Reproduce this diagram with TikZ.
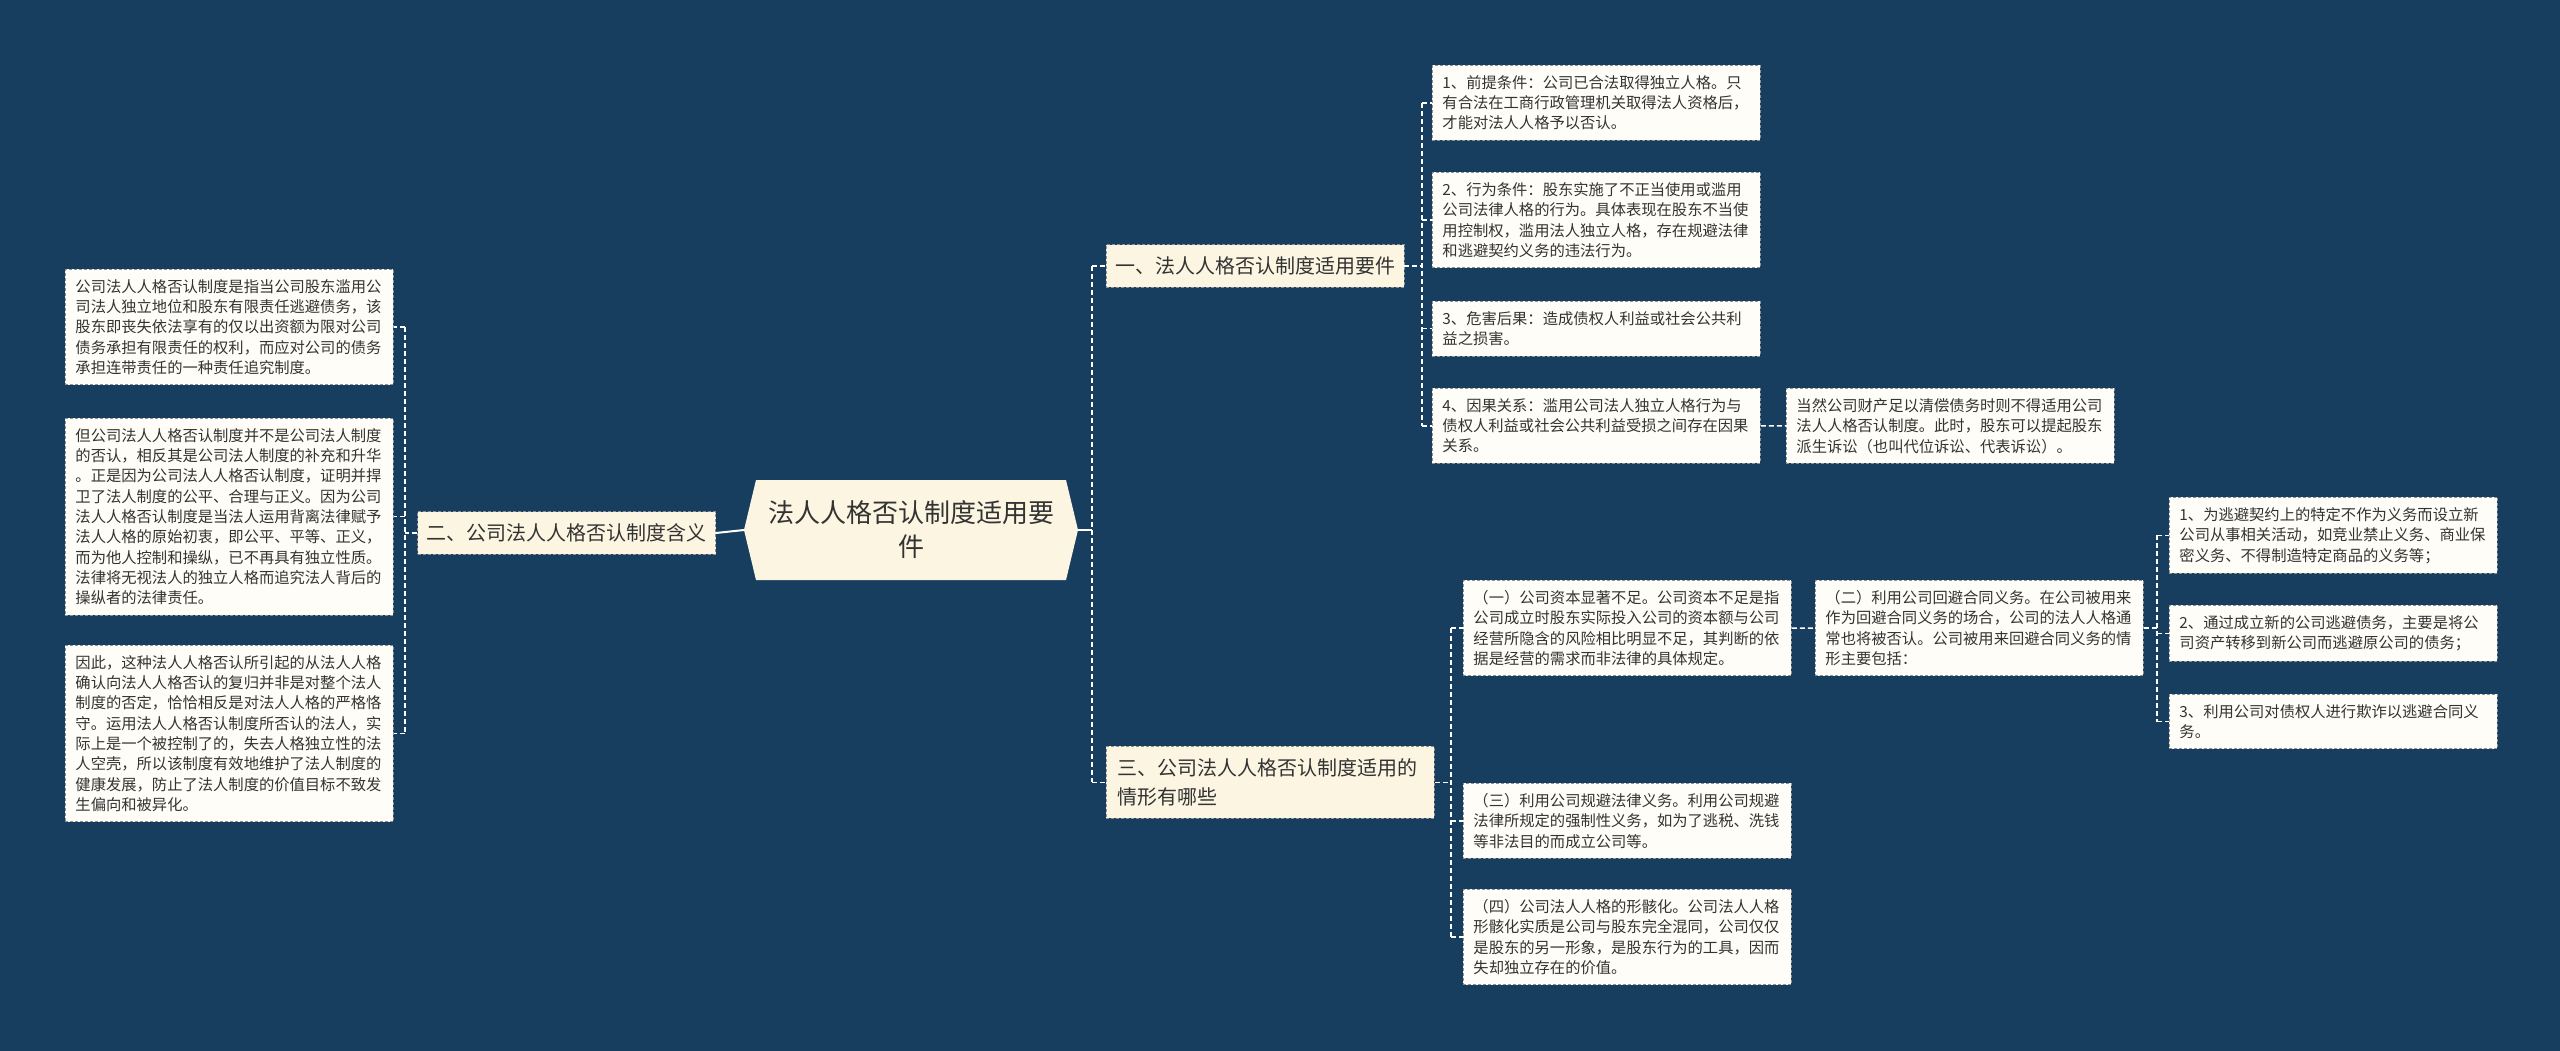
\documentclass[tikz,border=0pt]{standalone}
\usepackage{fontspec}
\setmainfont{Noto Sans CJK SC}
\definecolor{bg}{HTML}{183E5F}
\definecolor{mainfill}{HTML}{FBF5E1}
\definecolor{leaffill}{HTML}{FEFDF7}
\definecolor{bordergray}{HTML}{8C9196}
\definecolor{txt}{HTML}{333333}
\begin{document}
\begin{tikzpicture}[x=1pt,y=-1pt,
  leaf/.style={draw=bordergray, line width=0.9pt, dash pattern=on 3pt off 2pt, fill=leaffill, text=txt,
    font=\fontsize{15.3}{20.3}\selectfont, align=left, text width=308pt, inner xsep=10pt, inner ysep=10pt, anchor=north west},
  mainbox/.style={draw=bordergray, line width=0.9pt, dash pattern=on 3pt off 2pt, fill=mainfill, text=txt,
    font=\fontsize{20}{29}\selectfont, inner xsep=9pt, inner ysep=12pt},
  conn/.style={draw=white, line width=1.5pt, dash pattern=on 5pt off 3pt},
  solidconn/.style={draw=white, line width=2pt}
]
\fill[bg] (0,0) rectangle (2560,1051);
\useasboundingbox (0,0) rectangle (2560,1051);

% center hexagon
\fill[mainfill] (744,530) -- (756,480) -- (1066,480) -- (1078,530) -- (1066,580) -- (756,580) -- cycle;
\node[text=txt, font=\fontsize{26}{34}\selectfont, align=center] (c) at (911,530) {法人人格否认制度适用要\\件};
\coordinate (cl) at (744,530);
\coordinate (cr) at (1078,530);

% main branches
\node[mainbox] (er) at (566.5,533) {二、公司法人人格否认制度含义};
\node[mainbox] (yi) at (1255,266) {一、法人人格否认制度适用要件};
\node[mainbox, anchor=north west, text width=306pt, align=left, inner xsep=11pt] (san) at (1106,746) {三、公司法人人格否认制度适用的\\情形有哪些};

% left leaves
\node[leaf] (L1) at (65,269) {公司法人人格否认制度是指当公司股东滥用公\\司法人独立地位和股东有限责任逃避债务，该\\股东即丧失依法享有的仅以出资额为限对公司\\债务承担有限责任的权利，而应对公司的债务\\承担连带责任的一种责任追究制度。};
\node[leaf] (L2) at (65,418) {但公司法人人格否认制度并不是公司法人制度\\的否认，相反其是公司法人制度的补充和升华\\。正是因为公司法人人格否认制度，证明并捍\\卫了法人制度的公平、合理与正义。因为公司\\法人人格否认制度是当法人运用背离法律赋予\\法人人格的原始初衷，即公平、平等、正义，\\而为他人控制和操纵，已不再具有独立性质。\\法律将无视法人的独立人格而追究法人背后的\\操纵者的法律责任。};
\node[leaf] (L3) at (65,645) {因此，这种法人人格否认所引起的从法人人格\\确认向法人人格否认的复归并非是对整个法人\\制度的否定，恰恰相反是对法人人格的严格恪\\守。运用法人人格否认制度所否认的法人，实\\际上是一个被控制了的，失去人格独立性的法\\人空壳，所以该制度有效地维护了法人制度的\\健康发展，防止了法人制度的价值目标不致发\\生偏向和被异化。};

% branch one leaves
\node[leaf] (R1) at (1432,65) {1、前提条件：公司已合法取得独立人格。只\\有合法在工商行政管理机关取得法人资格后，\\才能对法人人格予以否认。};
\node[leaf] (R2) at (1432,172) {2、行为条件：股东实施了不正当使用或滥用\\公司法律人格的行为。具体表现在股东不当使\\用控制权，滥用法人独立人格，存在规避法律\\和逃避契约义务的违法行为。};
\node[leaf] (R3) at (1432,301) {3、危害后果：造成债权人利益或社会公共利\\益之损害。};
\node[leaf] (R4) at (1432,388) {4、因果关系：滥用公司法人独立人格行为与\\债权人利益或社会公共利益受损之间存在因果\\关系。};
\node[leaf] (R4c) at (1786,388) {当然公司财产足以清偿债务时则不得适用公司\\法人人格否认制度。此时，股东可以提起股东\\派生诉讼（也叫代位诉讼、代表诉讼）。};

% branch three leaves
\node[leaf] (S1) at (1463,580) {（一）公司资本显著不足。公司资本不足是指\\公司成立时股东实际投入公司的资本额与公司\\经营所隐含的风险相比明显不足，其判断的依\\据是经营的需求而非法律的具体规定。};
\node[leaf] (S2) at (1815,580) {（二）利用公司回避合同义务。在公司被用来\\作为回避合同义务的场合，公司的法人人格通\\常也将被否认。公司被用来回避合同义务的情\\形主要包括：};
\node[leaf] (S3) at (1463,783) {（三）利用公司规避法律义务。利用公司规避\\法律所规定的强制性义务，如为了逃税、洗钱\\等非法目的而成立公司等。};
\node[leaf] (S4) at (1463,889) {（四）公司法人人格的形骸化。公司法人人格\\形骸化实质是公司与股东完全混同，公司仅仅\\是股东的另一形象，是股东行为的工具，因而\\失却独立存在的价值。};
\node[leaf] (T1) at (2169,497) {1、为逃避契约上的特定不作为义务而设立新\\公司从事相关活动，如竞业禁止义务、商业保\\密义务、不得制造特定商品的义务等；};
\node[leaf] (T2) at (2169,605) {2、通过成立新的公司逃避债务，主要是将公\\司资产转移到新公司而逃避原公司的债务；};
\node[leaf] (T3) at (2169,694) {3、利用公司对债权人进行欺诈以逃避合同义\\务。};

% bus coordinates
\coordinate (b0) at (405,0);
\coordinate (b1) at (1422,0);
\coordinate (b2) at (1092,0);
\coordinate (b3) at (1451,0);
\coordinate (b4) at (2157,0);

% center connectors
\draw[solidconn] (cl) -- (er.east);
\draw[solidconn] (cr) -- (b2 |- cr);
\draw[conn] (b2 |- yi.west) -- (b2 |- san.west);
\draw[conn] (b2 |- yi.west) -- (yi.west);
\draw[conn] (b2 |- san.west) -- (san.west);

% left
\draw[conn] (er.west) -- (b0 |- er.west);
\draw[conn] (b0 |- L1.east) -- (b0 |- L3.east);
\foreach \n in {L1,L2,L3} \draw[conn] (b0 |- \n.east) -- (\n.east);

% branch one
\draw[conn] (yi.east) -- (b1 |- yi.east);
\draw[conn] (b1 |- R1.west) -- (b1 |- R4.west);
\foreach \n in {R1,R2,R3,R4} \draw[conn] (b1 |- \n.west) -- (\n.west);
\draw[conn] (R4.east) -- (R4c.west);

% branch three
\draw[conn] (san.east) -- (b3 |- san.east);
\draw[conn] (b3 |- S1.west) -- (b3 |- S4.west);
\foreach \n in {S1,S3,S4} \draw[conn] (b3 |- \n.west) -- (\n.west);
\draw[conn] (S1.east) -- (S2.west);
\draw[conn] (S2.east) -- (b4 |- S2.east);
\draw[conn] (b4 |- T1.west) -- (b4 |- T3.west);
\foreach \n in {T1,T2,T3} \draw[conn] (b4 |- \n.west) -- (\n.west);
\end{tikzpicture}
\end{document}
